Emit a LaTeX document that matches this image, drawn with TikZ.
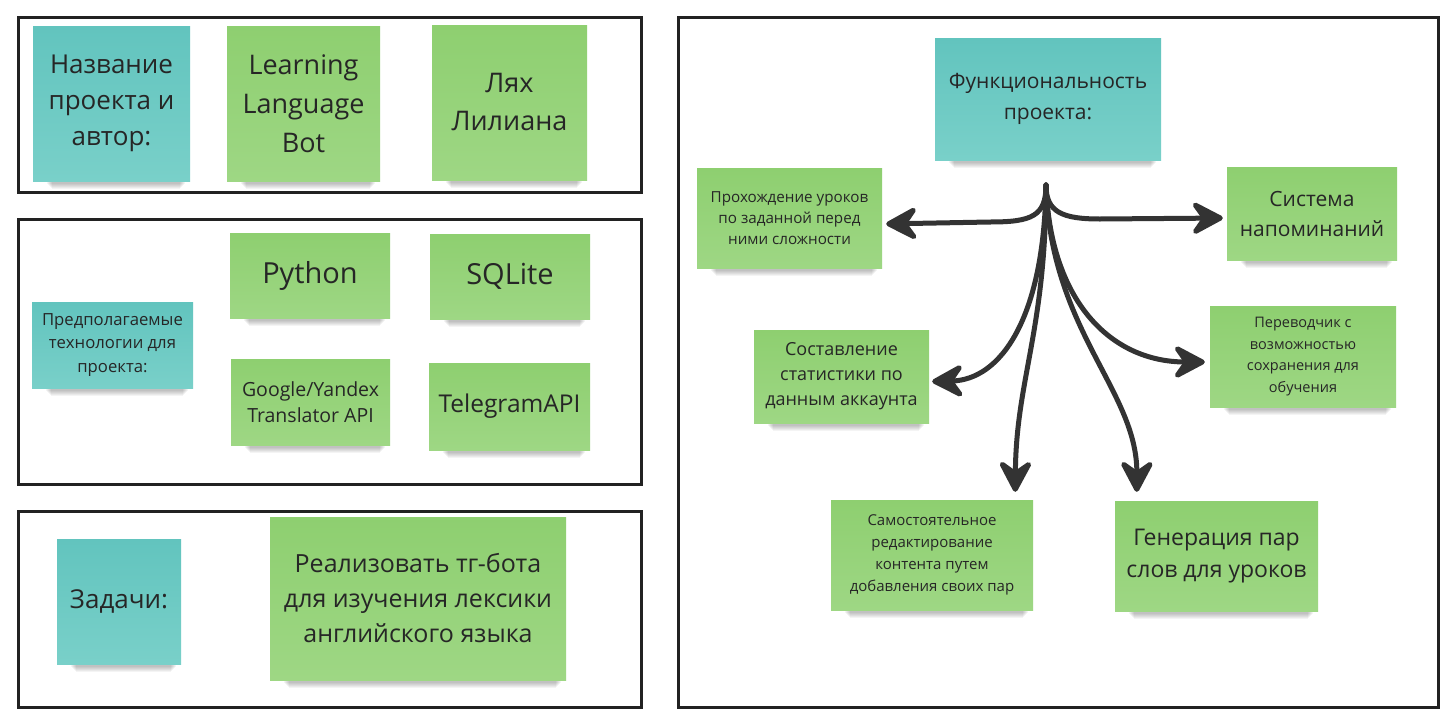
\documentclass[tikz,border=0pt]{standalone}
\usepackage{fontspec}
\setmainfont{Open Sans}
\usetikzlibrary{arrows.meta}
\definecolor{tealA}{HTML}{62C4BE}
\definecolor{tealB}{HTML}{79D0C9}
\definecolor{greenA}{HTML}{8ECF70}
\definecolor{greenB}{HTML}{9ED784}
\definecolor{framec}{HTML}{222222}
\definecolor{arrowc}{HTML}{333333}
\definecolor{txt}{HTML}{262626}
\newcommand\fsz[2]{\fontsize{#1}{#2}\selectfont}
\newcommand\stickynote[7]{%
  \foreach \k in {0,...,5}{\fill[black,opacity=0.045] (#2+14+\k,#5-2) rectangle (#4-5-\k,#5+3+\k);}
  \node[#6, minimum width=#4pt-#2pt, minimum height=#5pt-#3pt] (#1) at ({(#2+#4)/2},{(#3+#5)/2}) {#7};
}
\tikzset{
  note/.style={inner sep=0pt, align=center, text=txt},
  tealnote/.style={note, top color=tealA, bottom color=tealB},
  greennote/.style={note, top color=greenA, bottom color=greenB},
  frame/.style={draw=framec, line width=3pt},
  conn/.style={draw=arrowc, line width=5pt, line cap=round,
    -{Stealth[length=38pt,width=40pt,inset=14pt,round]}}
}
\begin{document}
\begin{tikzpicture}[x=1pt,y=-1pt]
\useasboundingbox[fill=white] (0,0) rectangle (1454,723);
% frames
\draw[frame] (18,17) rectangle (641,192);
\draw[frame] (18,219) rectangle (641,484);
\draw[frame] (18,511) rectangle (641,707);
\draw[frame] (678,17) rectangle (1438,707);
% left notes
\stickynote{name}{33}{26}{190}{181}{tealnote,font=\fsz{26}{36}}{Название\\проекта и\\автор:}
\stickynote{bot}{227}{26}{380}{181}{greennote,font=\fsz{27}{39}}{Learning\\Language\\Bot}
\stickynote{author}{432}{25}{587}{180}{greennote,font=\fsz{27}{38}}{Лях\\Лилиана}
\stickynote{tech}{32}{302}{193}{388}{tealnote,font=\fsz{16.7}{23.3}}{Предполагаемые\\технологии для\\проекта:}
\stickynote{python}{230}{233}{390}{318}{greennote,font=\fsz{29}{38}}{Python}
\stickynote{sqlite}{430}{234}{590}{319}{greennote,font=\fsz{29}{38}}{SQLite}
\stickynote{translator}{231}{359}{390}{445}{greennote,font=\fsz{19.5}{26}}{Google/Yandex\\Translator API}
\stickynote{telegram}{429}{363}{590}{450}{greennote,font=\fsz{24.5}{32}}{TelegramAPI}
\stickynote{tasks}{57}{539}{181}{664}{tealnote,font=\fsz{26}{36}}{Задачи:}
\stickynote{goal}{270}{517}{566}{680}{greennote,font=\fsz{25}{35}}{Реализовать тг-бота\\для изучения лексики\\английского языка}
% right notes
\stickynote{func}{935}{38}{1161}{160}{tealnote,font=\fsz{21}{31}}{Функциональность\\проекта:}
\stickynote{lessons}{697}{168}{882}{268}{greennote,font=\fsz{15.2}{21}}{Прохождение уроков\\по заданной перед\\ними сложности}
\stickynote{remind}{1227}{167}{1397}{260}{greennote,font=\fsz{21}{30}}{Система\\напоминаний}
\stickynote{stats}{754}{330}{929}{423}{greennote,font=\fsz{18}{25}}{Составление\\статистики по\\данным аккаунта}
\stickynote{transl}{1210}{306}{1396}{407}{greennote,font=\fsz{14.5}{21.7}}{Переводчик с\\возможностью\\сохранения для\\обучения}
\stickynote{edit}{831}{500}{1033}{610}{greennote,font=\fsz{15}{22}}{Самостоятельное\\редактирование\\контента путем\\добавления своих пар}
\stickynote{gen}{1115}{501}{1318}{611}{greennote,font=\fsz{23}{32}}{Генерация пар\\слов для уроков}
% connectors
\coordinate (hub) at (1046,185);
\draw[conn, shorten >=4pt] (hub) .. controls (1046,216) and (1032,222) .. (990,222) -- ([yshift=-6pt]lessons.east);
\draw[conn, shorten >=4pt] (hub) .. controls (1046,212) and (1062,219) .. (1100,219) -- ([yshift=-4.5pt]remind.west);
\draw[conn, shorten >=3pt] (hub) .. controls (1044,320) and (1000,380) .. ([yshift=-5pt]stats.east);
\draw[conn, shorten >=5pt] (hub) .. controls (1050,300) and (1110,362) .. ([yshift=-5.5pt]transl.west);
\draw[conn, shorten >=8pt] (hub) .. controls (1046,330) and (1016,380) .. ([xshift=-18pt]edit.north east);
\draw[conn, shorten >=9pt] (hub) .. controls (1050,330) and (1137,390) .. ([xshift=22pt]gen.north west);
\end{tikzpicture}
\end{document}
